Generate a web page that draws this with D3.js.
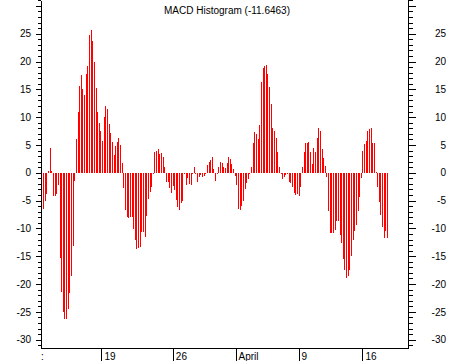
<!DOCTYPE html>
<html>
<head>
<meta charset="utf-8">
<script src="https://cdn.jsdelivr.net/npm/d3@7"></script>
<style>
  body { margin: 0; background: #fff; }
  svg { display: block; }
  text { font-family: "Liberation Sans", Arial, sans-serif; }
</style>
</head>
<body>
<div id="macd_chart"></div>
<script>
// histogram values, one per bar, left to right
const histValues = [
  -5.3, -6.6, -5, -3.8, 0.4, 4.4, 0.4, -4.2, -4.2, -3.8,
  -2.2, -15.3, -21.4, -25, -26.2, -26.2, -24.4, -21.7, -18.5, -13.2,
  -1.5, 6, 11, 15.6, 17.5, 15, 14, 17.7, 19.2, 24.7,
  25.6, 23.7, 19.9, 15.2, 11, 8.9, 7.5, 5.7, 10, 12,
  11.4, 8.7, 7.1, 5.5, 3.2, 4.8, 5.5, 6.2, 5, 1.7,
  -2.8, -6.7, -8, -8.1,
  -8.0, -8.0, -10.1, -12, -13.7, -13.5, -13.4, -10.7, -10.7, -11.6,
  -7.8, -4.7, -3.5, -2.6, -0.1, 3.7, 4.0, 4.2, 3.3, 3.5,
  2.9, 1.0, -1.6, -1.7, -2.8, -3.7, -2.3, -3.1, -4.9, -6.2,
  -6.7, -5.4, -5.1, -0.1, -2.2, -1, -2, -2.2, -0.2, 1.1,
  -0.3, -1.7, -0.8, -0.4, -0.8, -0.5, -0.1, 1.4, 1.9, 2.3,
  2.8, 0.7, -1.5, -0.2, 1, 1.9, 1.7, 1, 0.9, 1.7,
  2.8, 2.5, 1.6, 0.7, -0.5, -2.2, -6.5, -6.7, -6.0, -5.1,
  -2.9, -1.8, -1.1, -0.2, 1, 5.3, 7.3, 6.9, 6, 8.6,
  16.4, 18.9, 19.2, 19.3, 17.7, 15.5, 12.3, 8, 7.6, 6.2,
  3.8, 1, -0.2, -1.1, -0.8, -0.4, -0.3, -1.7, -1.9, -2.6,
  -3.7, -4, -3.9, -4.2, -2.6, 1.1, 3.8, 5.4, 5.4, 5.6,
  3.8, 1.5, 4.4, 3.8, 6.3, 8, 7.6, 4.2, 2.6, 1.3,
  -0.7, -6.8, -10.9, -10.9, -10.9, -10.2, -8.7, -8.6, -11.1, -12.6,
  -15.5, -17.5, -18.9, -18.5, -17.5, -15,
  -12, -10.4, -9.4, -6.9, -4.4, -1, 4, 5.1, 5.8, 7.6,
  7.8, 8, 5.4, 5.3, 0.2, -2.6, -5.3, -7.6, -9.8, -11.8,
  -10.5, -11.6463
]

// date ticks (bar index where each label sits)
const dateLabels = ['19', '26', 'April', '9', '16']
const dateIndex = [36.6, 80.2, 118.5, 157, 196]

const yMajor = d3.range(-30, 31, 5)   // long ticks
const yLabels = d3.range(-30, 26, 5)  // 30 has a tick but no label
const yMinor = d3.range(-31, 32, 1)

const title = 'MACD Histogram (-11.6463)'

// chart setting
const chart = { width: 449, height: 361 }
const plot = { left: 41, right: 408, top: 0, bottom: 348 }

const svg = d3.select('#macd_chart')
  .append('svg')
    .attr('width', chart.width)
    .attr('height', chart.height)

// scales
const xScale = d3.scaleLinear()
  .domain([-0.61, 223.5])
  .range([plot.left, plot.right])

const yScale = d3.scaleLinear()
  .domain([-31.5, 31.06])
  .range([plot.bottom, plot.top])

const zeroY = Math.round(yScale(0))

// bars
svg.append('g')
    .attr('class', 'bars')
    .attr('shape-rendering', 'crispEdges')
  .selectAll('rect')
  .data(histValues)
  .join('rect')
    .attr('x', (d, i) => Math.floor(xScale(i)))
    .attr('width', 1)
    .attr('y', d => d >= 0 ? Math.round(yScale(d)) : zeroY)
    .attr('height', d => Math.max(1, Math.abs(Math.round(yScale(d)) - zeroY)))
    .attr('fill', '#ff0000')

// y axes, left and right
function styleAxis(g) {
  g.attr('shape-rendering', 'crispEdges')
  g.selectAll('text')
    .attr('font-size', '10px')
    .attr('font-family', '"Liberation Sans", Arial, sans-serif')
    .attr('fill', '#000')
}

const fmt = d => yLabels.includes(d) ? d : ''

svg.append('g')
  .attr('transform', `translate(${plot.left},0)`)
  .call(d3.axisLeft(yScale).tickValues(yMinor).tickSize(3).tickSizeOuter(0).tickFormat(''))
  .call(styleAxis)

svg.append('g')
  .attr('transform', `translate(${plot.left},0)`)
  .call(d3.axisLeft(yScale).tickValues(yMajor).tickSize(5).tickPadding(5).tickSizeOuter(0).tickFormat(fmt))
  .call(styleAxis)

svg.append('g')
  .attr('transform', `translate(${plot.right},0)`)
  .call(d3.axisRight(yScale).tickValues(yMinor).tickSize(5).tickSizeOuter(0).tickFormat(''))
  .call(styleAxis)

const rightAxis = svg.append('g')
  .attr('transform', `translate(${plot.right},0)`)
  .call(d3.axisRight(yScale).tickValues(yMajor).tickSize(8).tickSizeOuter(0).tickFormat(fmt))
  .call(styleAxis)

rightAxis.selectAll('text')
  .attr('text-anchor', 'end')
  .attr('x', 38)

// bottom date axis
const bottomAxis = svg.append('g')
  .attr('transform', `translate(0,${plot.bottom})`)
  .call(d3.axisBottom(xScale)
    .tickValues(dateIndex)
    .tickSize(14)
    .tickSizeOuter(0)
    .tickFormat((d, i) => dateLabels[i]))
  .call(styleAxis)

bottomAxis.selectAll('.tick line')
  .attr('transform', 'translate(-0.5,0)')

bottomAxis.selectAll('text')
  .attr('text-anchor', 'start')
  .attr('x', 2)
  .attr('y', 11.5)
  .attr('dy', 0)

// clipped label at the left end of the date axis
svg.append('text')
  .attr('x', plot.left)
  .attr('y', plot.bottom + 11.5)
  .attr('font-size', '10px')
  .text(':')

// title
svg.append('text')
  .attr('x', 227)
  .attr('y', 14)
  .attr('text-anchor', 'middle')
  .attr('font-size', '10px')
  .text(title)
</script>
</body>
</html>
